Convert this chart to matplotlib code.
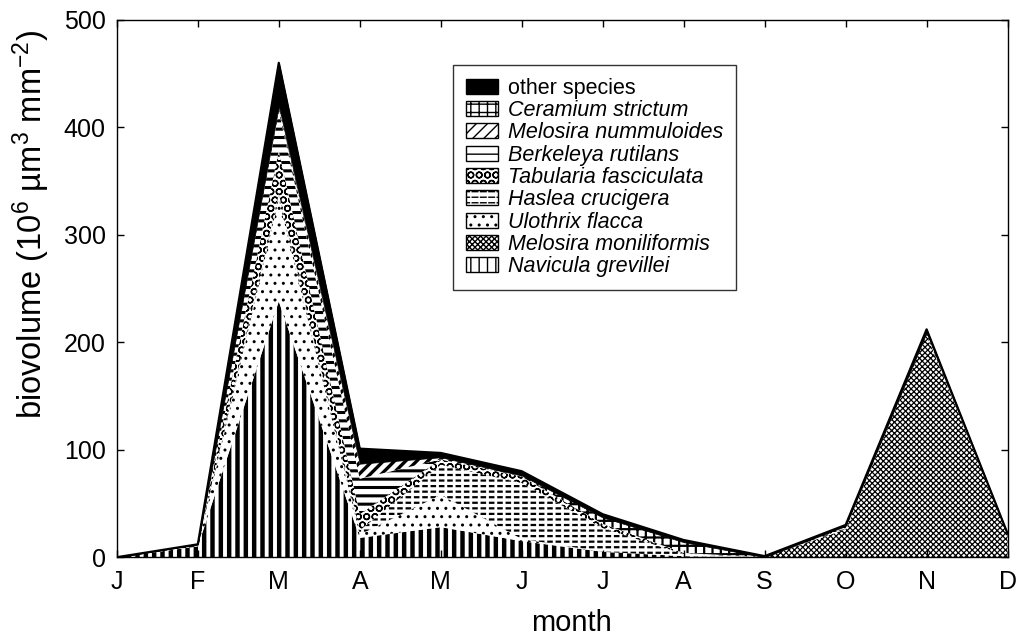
import numpy as np
import matplotlib
matplotlib.use("Agg")
import matplotlib.pyplot as plt
from matplotlib.patches import Patch

plt.rcParams['font.family'] = ['Liberation Sans', 'DejaVu Sans']
plt.rcParams['mathtext.fontset'] = 'custom'
plt.rcParams['mathtext.rm'] = 'Liberation Sans'
plt.rcParams['mathtext.default'] = 'regular'

months = ['J', 'F', 'M', 'A', 'M', 'J', 'J', 'A', 'S', 'O', 'N', 'D']

# biovolume per species, 10^6 um^3 mm^-2, stacked bottom to top
navicula = [0, 10, 238, 18, 28, 15, 5, 1, 0, 0, 0, 0]
mel_monil = [0, 0, 0, 0, 0, 0, 0, 0, 0, 26, 207, 22]
ulothrix = [0, 0, 95, 3, 30, 2, 0, 0, 0, 0, 0, 0]
haslea = [0, 2, 5, 4, 28, 52, 22, 2, 0, 1, 0, 0]
tabularia = [0, 0, 40, 15, 5, 6, 4, 1, 0, 2, 2, 0]
berkeleya = [0, 0, 37, 33, 0, 0, 0, 0, 0, 0, 0, 0]
mel_numm = [0, 0, 3, 14, 2, 0, 0, 0, 0, 0, 0, 0]
ceramium = [0, 0, 2, 0, 0, 1, 6, 10, 0, 0, 0, 0]
other = [0, 0, 40, 14, 4, 4, 3, 2, 1, 1, 3, 0]

species = ['Navicula grevillei', 'Melosira moniliformis', 'Ulothrix flacca',
           'Haslea crucigera', 'Tabularia fasciculata', 'Berkeleya rutilans',
           'Melosira nummuloides', 'Ceramium strictum', 'other species']
layers = [navicula, mel_monil, ulothrix, haslea, tabularia, berkeleya,
          mel_numm, ceramium, other]

# (hatch, hatch linewidth, solid face)
styles = [('||', 3.2, False),
          ('xxxxxx', 0.9, False),
          ('..', 1.0, False),
          ('---', 1.6, False),
          ('OO', 1.0, False),
          ('--', 2.2, False),
          ('///', 2.4, False),
          ('++', 1.6, False),
          (None, 1.0, True)]

x = np.arange(len(months))
fig, ax = plt.subplots(figsize=(10.25, 6.39), dpi=100)
fig.subplots_adjust(left=0.114, right=0.983, bottom=0.128, top=0.969)


def dash_breaker(**kw):
    # white vertical hatch laid over horizontal lines turns them into dashes
    with plt.rc_context({'hatch.linewidth': 2.0}):
        return kw.pop('fn')(facecolor='none', edgecolor='white', hatch='||',
                            linewidth=0, **kw)


base = np.zeros(len(months))
handles = []
for name, vals, (hatch, hlw, solid) in zip(species, layers, styles):
    top = base + np.array(vals, dtype=float)
    with plt.rc_context({'hatch.linewidth': hlw}):
        if solid:
            ax.fill_between(x, base, top, facecolor='black',
                            edgecolor='black', linewidth=0.5)
            h = Patch(facecolor='black', edgecolor='black', linewidth=1.0)
        else:
            ax.fill_between(x, base, top, facecolor='white',
                            edgecolor='black', hatch=hatch, linewidth=0)
            h = Patch(facecolor='white', edgecolor='black', hatch=hatch,
                      linewidth=0)
    if name == 'Haslea crucigera':
        dash_breaker(fn=lambda **k: ax.fill_between(x, base, top, **k))
        h = (h, dash_breaker(fn=Patch))
    if not solid:
        frame = Patch(facecolor='none', edgecolor='black', linewidth=1.0)
        h = (h, frame) if not isinstance(h, tuple) else h + (frame,)
    handles.append(h)
    base = top

ax.plot(x, base, color='black', linewidth=1.6)

ax.set_xlim(0, 11)
ax.set_ylim(0, 500)
ax.set_xticks(x)
ax.set_xticklabels(months)
ax.set_yticks([0, 100, 200, 300, 400, 500])
ax.tick_params(direction='in', length=5, width=1, top=True, right=True,
               labelsize=18)
ax.tick_params(axis='x', pad=9)
ax.tick_params(axis='y', pad=8)
for s in ax.spines.values():
    s.set_linewidth(1.0)

ax.set_xlabel('month', fontsize=21)
ax.xaxis.set_label_coords(0.51, -0.097)
ax.set_ylabel('biovolume (10$^6$ µm$^3$ mm$^{-2}$)', fontsize=23.5)
ax.yaxis.set_label_coords(-0.073, 0.62)

leg = ax.legend(handles[::-1], species[::-1], loc='upper left',
                bbox_to_anchor=(0.377, 0.916), borderaxespad=0,
                fontsize=15.5, frameon=True, fancybox=False, edgecolor='black',
                handlelength=1.5, handleheight=0.7, labelspacing=0.06,
                borderpad=0.6, handletextpad=0.45)
leg.get_frame().set_linewidth(1.0)
for t in leg.get_texts()[1:]:
    t.set_style('italic')

fig.savefig('out.png', dpi=100)
